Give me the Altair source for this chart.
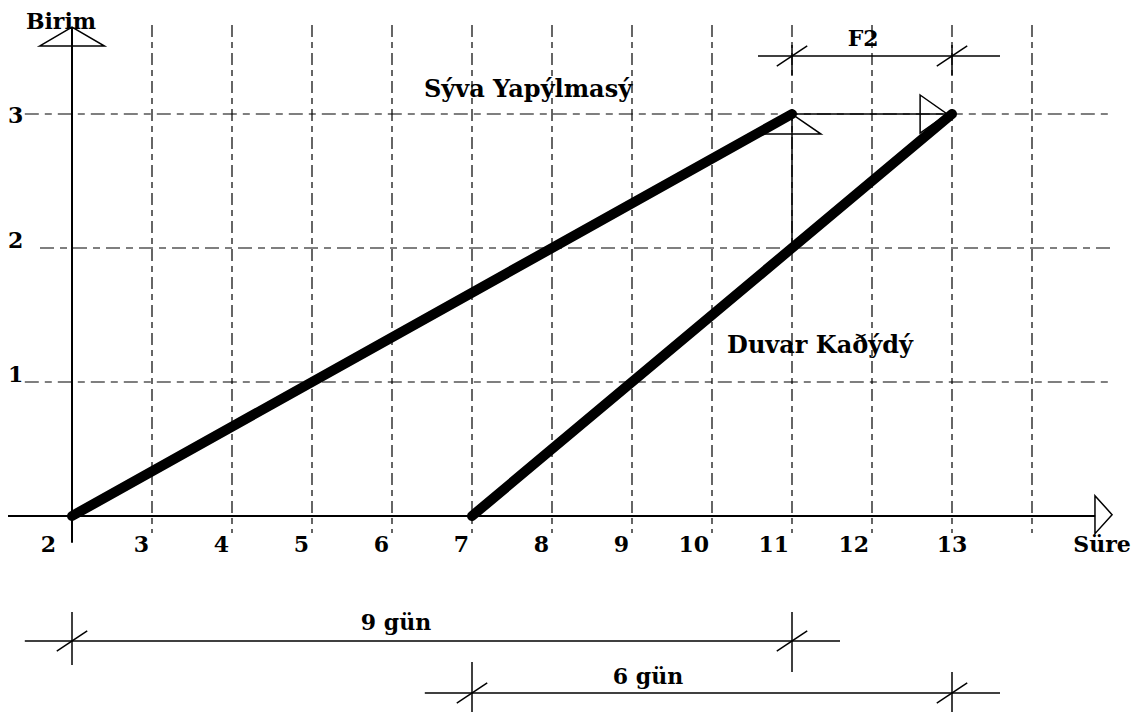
import altair as alt
import pandas as pd

# ---------------- data ----------------
activities = ["Sýva Yapýlmasý", "Duvar Kaðýdý"]
act_start = [2, 7]          # day where each activity starts (unit 0)
act_end = [11, 13]          # day where each activity reaches unit 3
units_total = 3

x_tick_labels = [2, 3, 4, 5, 6, 7, 8, 9, 10, 11, 12, 13]
y_tick_labels = [1, 2, 3]
grid_x = [3, 4, 5, 6, 7, 8, 9, 10, 11, 12, 13, 14]
grid_y = [1, 2, 3]
grid_y_start = [1.41, 1.6, 1.41]

# dimension lines: label, from day, to day, level, line extent
dim_labels = ["F2", "9 gün", "6 gün"]
dim_from = [11, 2, 7]
dim_to = [13, 11, 13]
dim_level = [3.433, -0.933, -1.321]
dim_ext_left = [10.575, 1.41, 6.41]
dim_ext_right = [13.6, 11.6, 13.6]
dim_tick_top_left = [3.515, -0.716, -1.09]
dim_tick_top_right = [3.515, -0.716, -1.164]
dim_tick_bottom_left = [3.291, -1.112, -1.463]
dim_tick_bottom_right = [3.291, -1.164, -1.463]
dim_text_x = [11.89, 6.05, 9.2]
dim_text_y = [3.507, -0.851, -1.254]

# ---------------- scales ----------------
X_DOMAIN = [1.2, 15.25]
Y_DOMAIN = [-1.4701, 3.791]
xs = alt.Scale(domain=X_DOMAIN, nice=False, zero=False)
ys = alt.Scale(domain=Y_DOMAIN, nice=False, zero=False)
FONT = "DejaVu Serif"
FS = 22
BLACK = "#000000"


def X(f="x"):
    return alt.X(f"{f}:Q", scale=xs, axis=None)


def Y(f="y"):
    return alt.Y(f"{f}:Q", scale=ys, axis=None)


# vertical dashed grid
gv = pd.DataFrame({"x": grid_x, "y": [3.664] * len(grid_x), "y2": [-0.127] * len(grid_x)})
grid_v = alt.Chart(gv).mark_rule(color=BLACK, strokeWidth=1.2, strokeDash=[12, 5, 6, 5]).encode(
    x=X(), y=Y(), y2="y2:Q")

# horizontal dashed grid
gh = pd.DataFrame({"y": grid_y, "x": grid_y_start, "x2": [14.975] * len(grid_y)})
grid_h = alt.Chart(gh).mark_rule(color=BLACK, strokeWidth=1.2, strokeDash=[14, 6, 7, 6]).encode(
    x=X(), x2="x2:Q", y=Y())

# axes lines
ax_h = alt.Chart(pd.DataFrame({"x": [1.2], "x2": [14.79], "y": [0]})).mark_rule(
    color=BLACK, strokeWidth=2).encode(x=X(), x2="x2:Q", y=Y())
ax_v = alt.Chart(pd.DataFrame({"x": [2], "y": [-0.2], "y2": [3.649]})).mark_rule(
    color=BLACK, strokeWidth=2).encode(x=X(), y=Y(), y2="y2:Q")


# arrow heads (open triangles)
def tri(df, shape, size):
    return alt.Chart(df).mark_point(shape=shape, size=size, filled=False, color=BLACK,
                                    strokeWidth=1.5, opacity=1).encode(x=X(), y=Y())


arrow_up_axis = tri(pd.DataFrame({"x": [2], "y": [3.578]}), "M-1,0.292L0,-0.292L1,0.292Z", 4225)
arrow_right_axis = tri(pd.DataFrame({"x": [14.894], "y": [0.01]}), "M-0.45,-1L0.45,0L-0.45,1Z", 1444)
arrow_up_conn = tri(pd.DataFrame({"x": [act_end[0]], "y": [2.925]}), "M-1,0.345L0,-0.345L1,0.345Z", 3364)
arrow_right_conn = tri(pd.DataFrame({"x": [12.77], "y": [units_total]}), "M-0.71,-1L0.71,0L-0.71,1Z", 1444)

# connectors between activities
y_at = units_total * (act_end[0] - act_start[1]) / (act_end[1] - act_start[1])
conn_h = alt.Chart(pd.DataFrame({"x": [act_end[0]], "x2": [act_end[1]], "y": [units_total]})).mark_rule(
    color=BLACK, strokeWidth=1.5).encode(x=X(), x2="x2:Q", y=Y())
conn_v = alt.Chart(pd.DataFrame({"x": [act_end[0]], "y": [y_at], "y2": [units_total]})).mark_rule(
    color=BLACK, strokeWidth=1.5).encode(x=X(), y=Y(), y2="y2:Q")

# activity lines
rows = []
for name, s, e in zip(activities, act_start, act_end):
    rows.append({"act": name, "x": s, "y": 0})
    rows.append({"act": name, "x": e, "y": units_total})
acts = alt.Chart(pd.DataFrame(rows)).mark_line(color=BLACK, strokeWidth=10, strokeCap="round").encode(
    x=X(), y=Y(), detail="act:N")

# dimension lines
dl = pd.DataFrame({"x": dim_ext_left, "x2": dim_ext_right, "y": dim_level})
dim_lines = alt.Chart(dl).mark_rule(color=BLACK, strokeWidth=1.5).encode(x=X(), x2="x2:Q", y=Y())
dt = pd.DataFrame({
    "x": dim_from + dim_to,
    "y": dim_tick_top_left + dim_tick_top_right,
    "y2": dim_tick_bottom_left + dim_tick_bottom_right,
})
dim_ticks = alt.Chart(dt).mark_rule(color=BLACK, strokeWidth=1.5).encode(x=X(), y=Y(), y2="y2:Q")
sx, sy = 0.19, 0.075
ds = pd.DataFrame({
    "x": [v - sx for v in dim_from + dim_to],
    "x2": [v + sx for v in dim_from + dim_to],
    "y": [v - sy for v in dim_level + dim_level],
    "y2": [v + sy for v in dim_level + dim_level],
})
dim_slash = alt.Chart(ds).mark_rule(color=BLACK, strokeWidth=1.5).encode(
    x=X(), x2="x2:Q", y=Y(), y2="y2:Q")
dim_text = alt.Chart(pd.DataFrame({"x": dim_text_x, "y": dim_text_y, "t": dim_labels})).mark_text(
    font=FONT, fontSize=FS, fontWeight="bold", color=BLACK, align="center", baseline="alphabetic").encode(
    x=X(), y=Y(), text="t:N")

# tick labels
xl = pd.DataFrame({"x": x_tick_labels, "y": [-0.269] * len(x_tick_labels), "t": [str(v) for v in x_tick_labels]})
lab_common = dict(font=FONT, fontSize=FS, fontWeight="bold", color=BLACK, baseline="alphabetic")
xlab_mid = alt.Chart(xl[(xl.x > 2) & (xl.x < 13)]).mark_text(align="right", dx=-3, **lab_common).encode(
    x=X(), y=Y(), text="t:N")
xlab_first = alt.Chart(xl[xl.x == 2]).mark_text(align="right", dx=-16, **lab_common).encode(
    x=X(), y=Y(), text="t:N")
xlab_last = alt.Chart(xl[xl.x == 13]).mark_text(align="center", **lab_common).encode(
    x=X(), y=Y(), text="t:N")

yl = pd.DataFrame({"x": [1.39] * len(y_tick_labels), "y": y_tick_labels, "t": [str(v) for v in y_tick_labels]})
ylab_low = alt.Chart(yl[yl.y < 3]).mark_text(align="right", **lab_common).encode(x=X(), y=Y(), text="t:N")
ylab_top = alt.Chart(yl[yl.y == 3]).mark_text(align="right", dy=9, **lab_common).encode(
    x=X(), y=Y(), text="t:N")

# axis titles
axis_titles = pd.DataFrame({"x": [1.8625], "y": [3.635], "t": ["Birim"]})
birim_text = alt.Chart(axis_titles).mark_text(align="center", **lab_common).encode(
    x=X(), y=Y(), text="t:N")
sure_text = alt.Chart(pd.DataFrame({"x": [15.235], "y": [-0.269], "t": ["Süre"]})).mark_text(
    align="right", **lab_common).encode(x=X(), y=Y(), text="t:N")

# activity names
names = pd.DataFrame({"x": [7.7, 11.35], "y": [3.127, 1.216], "t": activities})
name_text = alt.Chart(names).mark_text(
    align="center", font=FONT, fontSize=24, fontWeight="bold", color=BLACK, baseline="alphabetic").encode(
    x=X(), y=Y(), text="t:N")

chart = alt.layer(
    grid_v, grid_h, ax_h, ax_v, conn_h, conn_v,
    arrow_up_axis, arrow_right_axis, arrow_up_conn, arrow_right_conn,
    acts, dim_lines, dim_ticks, dim_slash, dim_text,
    xlab_mid, xlab_first, xlab_last, ylab_low, ylab_top, birim_text, sure_text, name_text,
).properties(
    width=1124, height=705, padding=0, autosize=alt.AutoSizeParams(type="none"),
    background="white",
).configure_view(stroke=None)

chart.save("out.html", embed_options={"renderer": "svg", "actions": False})
